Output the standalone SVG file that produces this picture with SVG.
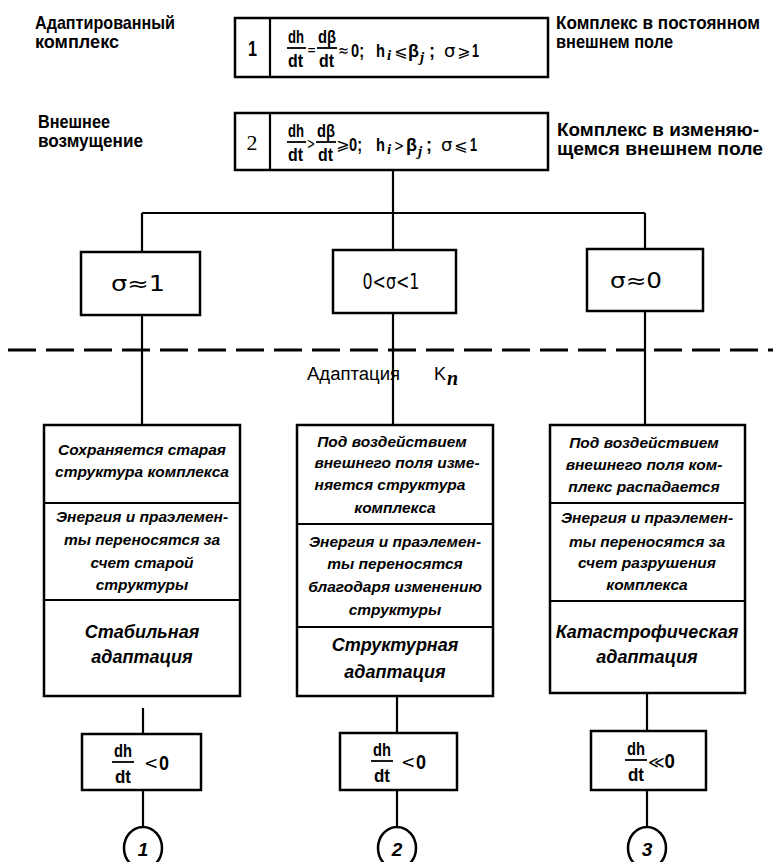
<svg xmlns="http://www.w3.org/2000/svg" width="773" height="862" viewBox="0 0 773 862">
<style>
.box{fill:#fff;stroke:#000;stroke-width:2.5}
.ln{stroke:#000;stroke-width:2.2;fill:none}
.bar{stroke:#000;stroke-width:1.8}
.lbl{font-family:"Liberation Sans",sans-serif;font-weight:bold;font-size:19px;fill:#000}
.f{font-family:"Liberation Sans",sans-serif;font-weight:bold;font-size:18px;fill:#000}
.fs{font-family:"DejaVu Sans",sans-serif;font-size:16px;fill:#000}
.sub{font-family:"Liberation Serif",serif;font-style:italic;font-weight:bold;font-size:15px;fill:#000}
.it{font-family:"Liberation Sans",sans-serif;font-style:italic;font-weight:bold;font-size:15.5px;text-anchor:middle;fill:#000}
.big{font-size:18px}
.num{font-family:"Liberation Sans",sans-serif;font-style:italic;font-weight:bold;font-size:19px;text-anchor:middle;fill:#000}
.sg{font-family:"DejaVu Sans",sans-serif;font-size:21px;fill:#000;text-anchor:middle}
</style>
<rect width="773" height="862" fill="#fff"/>

<g id="labels">
<text class="lbl" x="35" y="29" textLength="140" lengthAdjust="spacingAndGlyphs">Адаптированный</text>
<text class="lbl" x="35" y="48" textLength="84" lengthAdjust="spacingAndGlyphs">комплекс</text>
<text class="lbl" x="556" y="29" style="font-size:18px" textLength="204" lengthAdjust="spacingAndGlyphs">Комплекс в постоянном</text>
<text class="lbl" x="556" y="48" textLength="117" lengthAdjust="spacingAndGlyphs">внешнем поле</text>
<text class="lbl" x="38" y="128" textLength="72" lengthAdjust="spacingAndGlyphs">Внешнее</text>
<text class="lbl" x="38" y="147" textLength="105" lengthAdjust="spacingAndGlyphs">возмущение</text>
<text class="lbl" x="557" y="136" textLength="202" lengthAdjust="spacingAndGlyphs">Комплекс в изменяю-</text>
<text class="lbl" x="557" y="155" textLength="206" lengthAdjust="spacingAndGlyphs">щемся внешнем поле</text>
</g>

<g id="connectors">
<line class="ln" x1="393" y1="170" x2="393" y2="250"/>
<line class="ln" x1="142" y1="213" x2="645" y2="213"/>
<line class="ln" x1="142" y1="213" x2="142" y2="252"/>
<line class="ln" x1="645" y1="213" x2="645" y2="249"/>
<line class="ln" x1="142" y1="315" x2="142" y2="425"/>
<line class="ln" x1="393" y1="313" x2="393" y2="425"/>
<line class="ln" x1="645" y1="311" x2="645" y2="425"/>
<line class="ln" x1="143" y1="708" x2="143" y2="734"/>
<line class="ln" x1="397" y1="696" x2="397" y2="733"/>
<line class="ln" x1="647" y1="693" x2="647" y2="731"/>
<line class="ln" x1="143" y1="790" x2="143" y2="827"/>
<line class="ln" x1="397" y1="790" x2="397" y2="827"/>
<line class="ln" x1="647" y1="790" x2="647" y2="827"/>
</g>

<g id="divider">
<line x1="8" y1="350" x2="773" y2="350" stroke="#000" stroke-width="3" stroke-dasharray="28 10"/>
<text x="307" y="380" textLength="93" lengthAdjust="spacingAndGlyphs" style="font-family:'Liberation Sans',sans-serif;font-size:18px">Адаптация</text>
<text x="434" y="380" style="font-family:'Liberation Sans',sans-serif;font-size:18px">K</text>
<text x="447" y="385" style="font-family:'Liberation Serif',serif;font-style:italic;font-weight:bold;font-size:20px">n</text>
</g>

<g id="node-1">
<rect class="box" x="235" y="18" width="313" height="59"/>
<line class="ln" x1="270" y1="18" x2="270" y2="77"/>
<text class="f" x="248" y="56" style="font-size:22px" textLength="9" lengthAdjust="spacingAndGlyphs">1</text>
<text class="f" x="288" y="43" textLength="16" lengthAdjust="spacingAndGlyphs">dh</text>
<line class="bar" x1="287" y1="48" x2="306" y2="48"/>
<text class="f" x="288" y="67" textLength="15" lengthAdjust="spacingAndGlyphs">dt</text>
<text class="fs" x="307" y="55" textLength="9" lengthAdjust="spacingAndGlyphs">=</text>
<text class="f" x="318" y="43" textLength="18" lengthAdjust="spacingAndGlyphs">dβ</text>
<line class="bar" x1="317" y1="48" x2="337" y2="48"/>
<text class="f" x="319" y="67" textLength="15" lengthAdjust="spacingAndGlyphs">dt</text>
<text class="fs" x="338" y="56" textLength="11" lengthAdjust="spacingAndGlyphs">≈</text>
<text class="f" x="351" y="57" textLength="13" lengthAdjust="spacingAndGlyphs">0;</text>
<text class="f" x="376" y="57" textLength="9" lengthAdjust="spacingAndGlyphs">h</text>
<text class="sub" x="387" y="60">i</text>
<text class="fs" x="394" y="57">⩽</text>
<text class="f" x="408" y="57" textLength="11" lengthAdjust="spacingAndGlyphs">β</text>
<text class="sub" x="420" y="62">j</text>
<text class="f" x="429" y="57">;</text>
<text class="fs" x="444" y="57" style="font-size:18px">σ</text>
<text class="fs" x="457" y="57">⩾</text>
<text class="f" x="472" y="57" textLength="7" lengthAdjust="spacingAndGlyphs">1</text>
</g>

<g id="node-2">
<rect class="box" x="235" y="113" width="313" height="57"/>
<line class="ln" x1="270" y1="113" x2="270" y2="170"/>
<text x="252" y="150" style="font-family:'Liberation Serif',serif;font-size:22px" text-anchor="middle">2</text>
<text class="f" x="288" y="137" textLength="16" lengthAdjust="spacingAndGlyphs">dh</text>
<line class="bar" x1="287" y1="142" x2="306" y2="142"/>
<text class="f" x="288" y="161" textLength="15" lengthAdjust="spacingAndGlyphs">dt</text>
<text class="fs" x="307" y="149" textLength="8" lengthAdjust="spacingAndGlyphs">&gt;</text>
<text class="f" x="317" y="137" textLength="18" lengthAdjust="spacingAndGlyphs">dβ</text>
<line class="bar" x1="316" y1="142" x2="336" y2="142"/>
<text class="f" x="318" y="161" textLength="15" lengthAdjust="spacingAndGlyphs">dt</text>
<text class="fs" x="336" y="150">⩾</text>
<text class="f" x="349" y="151" textLength="13" lengthAdjust="spacingAndGlyphs">0;</text>
<text class="f" x="376" y="151" textLength="9" lengthAdjust="spacingAndGlyphs">h</text>
<text class="sub" x="387" y="154">i</text>
<text class="fs" x="394" y="151" textLength="10" lengthAdjust="spacingAndGlyphs">&gt;</text>
<text class="f" x="406" y="151" textLength="11" lengthAdjust="spacingAndGlyphs">β</text>
<text class="sub" x="418" y="156">j</text>
<text class="f" x="426" y="151">;</text>
<text class="fs" x="441" y="151" style="font-size:18px">σ</text>
<text class="fs" x="454" y="151">⩽</text>
<text class="f" x="470" y="151" textLength="7" lengthAdjust="spacingAndGlyphs">1</text>
</g>

<g id="node-sigma1">
<rect class="box" x="81" y="252" width="119" height="63"/>
<text class="sg" x="138" y="291" textLength="54" lengthAdjust="spacingAndGlyphs">σ≈1</text>
</g>
<g id="node-sigma2">
<rect class="box" x="333" y="250" width="123" height="63"/>
<text class="sg" x="391" y="289" textLength="57" lengthAdjust="spacingAndGlyphs">0&lt;σ&lt;1</text>
</g>
<g id="node-sigma3">
<rect class="box" x="587" y="249" width="116" height="62"/>
<text class="sg" x="636" y="288" textLength="52" lengthAdjust="spacingAndGlyphs">σ≈0</text>
</g>

<g id="node-stable">
<rect class="box" x="44" y="425" width="196" height="271"/>
<line class="ln" x1="44" y1="503" x2="240" y2="503"/>
<line class="ln" x1="44" y1="600" x2="240" y2="600"/>
<text class="it" x="142" y="455">Сохраняется старая</text>
<text class="it" x="142" y="477">структура комплекса</text>
<text class="it" x="142" y="522">Энергия и праэлемен-</text>
<text class="it" x="142" y="545">ты переносятся за</text>
<text class="it" x="142" y="568">счет старой</text>
<text class="it" x="142" y="590">структуры</text>
<text class="it big" x="142" y="638">Стабильная</text>
<text class="it big" x="142" y="663">адаптация</text>
</g>

<g id="node-structural">
<rect class="box" x="297" y="425" width="196" height="271"/>
<line class="ln" x1="297" y1="524" x2="493" y2="524"/>
<line class="ln" x1="297" y1="627" x2="493" y2="627"/>
<text class="it" x="392" y="447">Под воздействием</text>
<text class="it" x="397" y="468">внешнего поля изме-</text>
<text class="it" x="390" y="490">няется структура</text>
<text class="it" x="395" y="513">комплекса</text>
<text class="it" x="395" y="547">Энергия и праэлемен-</text>
<text class="it" x="395" y="569">ты переносятся</text>
<text class="it" x="395" y="592">благодаря изменению</text>
<text class="it" x="395" y="615">структуры</text>
<text class="it big" x="395" y="651">Структурная</text>
<text class="it big" x="395" y="678">адаптация</text>
</g>

<g id="node-catastrophic">
<rect class="box" x="550" y="425" width="195" height="268"/>
<line class="ln" x1="550" y1="503" x2="745" y2="503"/>
<line class="ln" x1="550" y1="601" x2="745" y2="601"/>
<text class="it" x="644" y="448">Под воздействием</text>
<text class="it" x="644" y="470">внешнего поля ком-</text>
<text class="it" x="644" y="492">плекс распадается</text>
<text class="it" x="647" y="523">Энергия и праэлемен-</text>
<text class="it" x="647" y="547">ты переносятся за</text>
<text class="it" x="647" y="568">счет разрушения</text>
<text class="it" x="647" y="590">комплекса</text>
<text class="it big" x="647" y="638">Катастрофическая</text>
<text class="it big" x="647" y="663">адаптация</text>
</g>

<g id="node-rate1">
<rect class="box" x="82" y="734" width="119" height="56"/>
<text class="f" x="114" y="757" textLength="18" lengthAdjust="spacingAndGlyphs">dh</text>
<line class="bar" x1="112" y1="762" x2="134" y2="762"/>
<text class="f" x="115" y="783" textLength="16" lengthAdjust="spacingAndGlyphs">dt</text>
<text class="fs" x="144" y="769" style="font-size:17px">&lt;</text>
<text class="f" x="159" y="770" style="font-size:20px" textLength="10" lengthAdjust="spacingAndGlyphs">0</text>
</g>
<g id="node-rate2">
<rect class="box" x="340" y="733" width="117" height="57"/>
<text class="f" x="373" y="756" textLength="18" lengthAdjust="spacingAndGlyphs">dh</text>
<line class="bar" x1="371" y1="761" x2="393" y2="761"/>
<text class="f" x="374" y="782" textLength="16" lengthAdjust="spacingAndGlyphs">dt</text>
<text class="fs" x="401" y="768" style="font-size:17px">&lt;</text>
<text class="f" x="416" y="769" style="font-size:20px" textLength="10" lengthAdjust="spacingAndGlyphs">0</text>
</g>
<g id="node-rate3">
<rect class="box" x="591" y="731" width="115" height="59"/>
<text class="f" x="627" y="755" textLength="18" lengthAdjust="spacingAndGlyphs">dh</text>
<line class="bar" x1="625" y1="760" x2="647" y2="760"/>
<text class="f" x="628" y="781" textLength="16" lengthAdjust="spacingAndGlyphs">dt</text>
<text class="f" x="648" y="768" style="font-size:20px" textLength="27" lengthAdjust="spacingAndGlyphs"><tspan style="font-family:'DejaVu Sans',sans-serif;font-weight:normal;font-size:17px">≪</tspan>0</text>
</g>

<g id="node-c1"><ellipse class="box" cx="143" cy="848" rx="19" ry="21"/><text class="num" x="143" y="856">1</text></g>
<g id="node-c2"><ellipse class="box" cx="397" cy="848" rx="19" ry="21"/><text class="num" x="397" y="856">2</text></g>
<g id="node-c3"><ellipse class="box" cx="647" cy="848" rx="19" ry="21"/><text class="num" x="647" y="856">3</text></g>
</svg>
